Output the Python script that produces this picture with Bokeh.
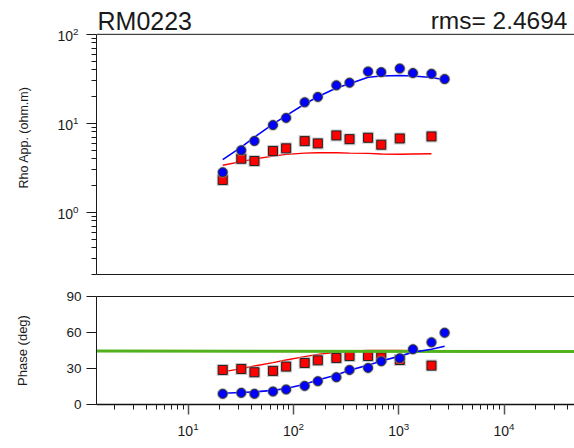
from bokeh.plotting import figure
from bokeh.layouts import column
from bokeh.models import Range1d, FixedTicker, LogTickFormatter, Label, LogAxis, Span
from bokeh.embed import file_html
from bokeh.resources import INLINE

# ---- data ----
period = [21.33, 32, 42.67, 64, 85.33, 128, 170.67, 256, 341.33, 512, 682.67, 1024, 1365.33, 2048, 2730.67]

rho_xy_obs = [2.82, 4.97, 6.33, 9.55, 11.5, 17.2, 19.8, 26.7, 28.6, 38.2, 37.6, 41.3, 36.7, 36.0, 31.4]
rho_xy_mod = [3.9, 5.4, 7.0, 9.8, 12.2, 16.5, 19.9, 24.9, 27.8, 33.0, 34.0, 34.5, 34.0, 32.7, 30.9]

period_yx_obs = [21.33, 32, 42.67, 64, 85.33, 128, 170.67, 256, 341.33, 512, 682.67, 1024, 2048]
rho_yx_obs = [2.31, 4.0, 3.77, 4.89, 5.23, 6.31, 5.95, 7.31, 6.64, 6.88, 5.75, 6.76, 7.12]
period_yx_mod = [21.33, 32, 42.67, 64, 85.33, 128, 170.67, 256, 341.33, 512, 682.67, 1024, 1365.33, 2048]
rho_yx_mod = [3.38, 3.71, 3.97, 4.28, 4.48, 4.63, 4.67, 4.67, 4.63, 4.60, 4.52, 4.50, 4.52, 4.55]

phase_xy_obs = [8.9, 9.7, 8.9, 10.8, 12.5, 15.5, 19.4, 22.7, 28.8, 30.5, 36.0, 38.5, 46.0, 51.8, 59.8]
phase_xy_mod = [9.4, 10.0, 10.5, 11.8, 13.3, 16.8, 20.5, 24.5, 28.5, 32.8, 36.2, 40.3, 43.5, 46.0, 48.5]
phase_yx_obs = [28.8, 29.6, 26.9, 28.0, 31.6, 34.6, 36.8, 38.8, 40.4, 40.4, 39.3, 37.1, 32.4]
phase_yx_mod = [27.2, 29.9, 32.1, 34.9, 37.1, 39.9, 41.8, 43.6, 44.5, 45.0, 45.1, 45.0, 44.9, 44.8]

X_MIN, X_MAX = 1.35, 46700
ref_period = [X_MIN, X_MAX]
ref_phase = [44.5, 44.2]

station = "RM0223"
rms_text = "rms= 2.4694"

x_major = [10, 100, 1000, 10000]
y_rho_major = [1, 10, 100]
y_phase_major = [0, 30, 60, 90]
RHO_MIN, RHO_MAX = 0.2, 100
RHO_HEADROOM = 240  # extra room above the rho axis where the titles sit

FONT = "Liberation Sans"
BLUE = "#0000ff"
RED = "#ff0000"
GREEN = "#52b21e"
INK = "#1a1a1a"

x_minor = [m * 10 ** e for e in range(0, 5) for m in range(2, 10)]
y_minor = [m * 10 ** e for e in range(-1, 2) for m in range(2, 10)]


def blank_axis(ax):
    ax.ticker = FixedTicker(ticks=[])
    ax.major_tick_out = 0
    ax.major_tick_in = 0
    ax.minor_tick_out = 0
    ax.minor_tick_in = 0
    ax.major_label_standoff = 0
    ax.axis_line_color = INK
    ax.axis_line_width = 1


def style_left(ax):
    ax.axis_line_color = INK
    ax.major_tick_line_color = INK
    ax.minor_tick_line_color = INK
    ax.major_tick_out = 10
    ax.major_tick_in = 0
    ax.minor_tick_out = 5
    ax.minor_tick_in = 0
    ax.major_label_text_font = FONT
    ax.major_label_text_color = INK
    ax.axis_label_text_font = FONT
    ax.axis_label_text_font_style = "normal"
    ax.axis_label_text_color = INK


# ---- top panel ----
p1 = figure(width=574, height=284, x_axis_type="log", y_axis_type="log",
            x_range=Range1d(X_MIN, X_MAX), y_range=Range1d(RHO_MIN, RHO_HEADROOM),
            toolbar_location=None, output_backend="svg",
            min_border_left=96, min_border_right=0, min_border_top=0, min_border_bottom=10,
            outline_line_color=None, background_fill_color="white", border_fill_color="white")
p1.grid.visible = False
blank_axis(p1.below[0])

ya = p1.left[0]
ya.ticker = FixedTicker(ticks=y_rho_major, minor_ticks=y_minor)
ya.formatter = LogTickFormatter()
ya.bounds = (RHO_MIN, RHO_MAX)
style_left(ya)
ya.major_label_text_font_size = "14px"
ya.major_label_standoff = 8
ya.axis_label = "Rho App. (ohm.m)"
ya.axis_label_text_font_size = "12.5px"
ya.axis_label_standoff = 23

p1.add_layout(Span(location=RHO_MAX, dimension="width", line_color=INK, line_width=1))

p1.line(period, rho_xy_mod, line_color=BLUE, line_width=1.6)
p1.line(period_yx_mod, rho_yx_mod, line_color=RED, line_width=1.4)
p1.scatter(period_yx_obs, rho_yx_obs, marker="square", size=12, fill_color="#aaaaaa", line_color=None, alpha=0.6)
p1.scatter(period_yx_obs, rho_yx_obs, marker="square", size=9, fill_color=RED, line_color="#222222", line_width=1)
p1.scatter(period, rho_xy_obs, marker="circle", size=11.5, fill_color="#999999", line_color=None, alpha=0.6)
p1.scatter(period, rho_xy_obs, marker="circle", size=9, fill_color=BLUE, line_color="#333333", line_width=1)

p1.add_layout(Label(x=1, y=254, x_units="screen", y_units="screen", text=station,
                    text_font=FONT, text_font_size="25px", text_color=INK,
                    text_baseline="alphabetic", text_align="left"))
p1.add_layout(Label(x=471, y=254, x_units="screen", y_units="screen", text=rms_text,
                    text_font=FONT, text_font_size="24.5px", text_color=INK,
                    text_baseline="alphabetic", text_align="right"))

# ---- bottom panel ----
p2 = figure(width=574, height=164, x_axis_type="log",
            x_range=p1.x_range, y_range=Range1d(0, 90),
            toolbar_location=None, output_backend="svg",
            min_border_left=96, min_border_right=0, min_border_top=12, min_border_bottom=44,
            outline_line_color=None, background_fill_color="white", border_fill_color="white")
p2.grid.visible = False
xa2 = p2.below[0]
ya2 = p2.left[0]
top2 = LogAxis()
blank_axis(top2)
p2.add_layout(top2, "above")

ya2.ticker = FixedTicker(ticks=y_phase_major)
style_left(ya2)
ya2.minor_tick_line_color = None
ya2.major_label_text_font_size = "13.5px"
ya2.major_label_standoff = 5
ya2.axis_label = "Phase (deg)"
ya2.axis_label_text_font_size = "13px"
ya2.axis_label_standoff = 33

xa2.ticker = FixedTicker(ticks=x_major, minor_ticks=x_minor)
xa2.formatter = LogTickFormatter()
xa2.axis_line_color = "#111111"
xa2.axis_line_width = 1.5
xa2.major_tick_line_color = "#555555"
xa2.major_tick_line_width = 1.5
xa2.minor_tick_line_color = INK
xa2.major_tick_out = 10
xa2.major_tick_in = 0
xa2.minor_tick_out = 5
xa2.minor_tick_in = 0
xa2.major_label_text_font = FONT
xa2.major_label_text_font_size = "14px"
xa2.major_label_text_color = INK
xa2.major_label_standoff = 7

p2.line(period_yx_mod, phase_yx_mod, line_color=RED, line_width=1.4)
p2.scatter(period_yx_obs, phase_yx_obs, marker="square", size=12, fill_color="#aaaaaa", line_color=None, alpha=0.6)
p2.scatter(period_yx_obs, phase_yx_obs, marker="square", size=9, fill_color=RED, line_color="#222222", line_width=1)
p2.line(ref_period, ref_phase, line_color=GREEN, line_width=3)
p2.line(period, phase_xy_mod, line_color=BLUE, line_width=1.6)
p2.scatter(period, phase_xy_obs, marker="circle", size=11.5, fill_color="#999999", line_color=None, alpha=0.6)
p2.scatter(period, phase_xy_obs, marker="circle", size=9, fill_color=BLUE, line_color="#333333", line_width=1)

layout = column(p1, p2, spacing=0)
open("out.html", "w").write(file_html(layout, INLINE))
